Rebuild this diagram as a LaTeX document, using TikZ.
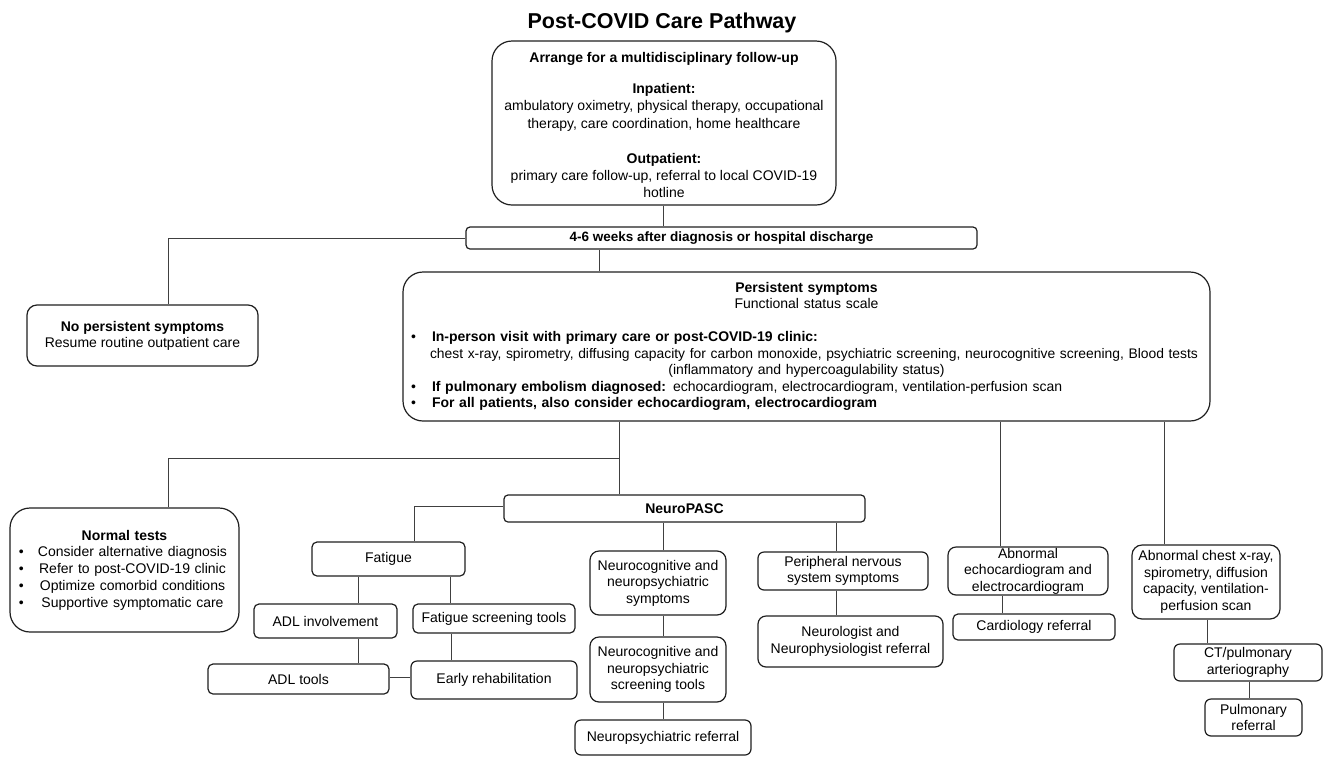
\documentclass[tikz,border=0pt]{standalone}
\usepackage{fontspec}
\setmainfont{Liberation Sans}
\usetikzlibrary{calc}
\tikzset{
  rbox/.style={draw=black!88, line width=1.2pt, rounded corners=#1, inner sep=0pt, align=center},
  conn/.style={draw=black!75, line width=0.9pt},
  ttl/.style={font=\fontsize{21.5}{24}\selectfont\bfseries}
}
\begin{document}
\begin{tikzpicture}[x=1pt, y=-1pt, font=\fontsize{14}{16.5}\selectfont]
\useasboundingbox (0,0) rectangle (1323,756);

\node[ttl] (title) at (662,23) {Post-COVID Care Pathway};

\node[rbox=20pt, minimum width=344pt, minimum height=164pt, font=\fontsize{14}{17.3}\selectfont] (A) at (664,123)
  {\rule{0pt}{5pt}\\[-8pt]
   \textbf{Arrange for a multidisciplinary follow-up}\\[13.7pt]
   \textbf{Inpatient:}\\
   ambulatory oximetry, physical therapy, occupational\\
   therapy, care coordination, home healthcare\\[17.7pt]
   \textbf{Outpatient:}\\
   primary care follow-up, referral to local COVID-19\\
   hotline};

\node[rbox=4pt, minimum width=511pt, minimum height=22pt, font=\fontsize{13.5}{16}\selectfont\bfseries] (B) at (721.5,238)
  {4-6 weeks after diagnosis or hospital discharge};

\node[rbox=10pt, minimum width=231pt, minimum height=61pt, font=\fontsize{14}{16}\selectfont] (C) at (142.5,335.5)
  {\textbf{No persistent symptoms}\\Resume routine outpatient care};

\node[rbox=20pt, text width=793pt, inner xsep=7pt, minimum height=149pt, align=left] (P) at (806.5,346.5)
  {\makebox[\linewidth][c]{\textbf{Persistent symptoms}}\\
   \makebox[\linewidth][c]{Functional status scale}\\[16.5pt]
   \makebox[22pt][l]{\hspace*{1pt}\textbullet}\textbf{In-person visit with primary care or post-COVID-19 clinic:}\\
   \hspace*{20pt}\makebox[768pt][l]{\resizebox{768pt}{!}{chest x-ray, spirometry, diffusing capacity for carbon monoxide, psychiatric screening, neurocognitive screening, Blood tests}}\\
   \makebox[\linewidth][c]{(inflammatory and hypercoagulability status)}\\
   \makebox[22pt][l]{\hspace*{1pt}\textbullet}\textbf{If pulmonary embolism diagnosed:} echocardiogram, electrocardiogram, ventilation-perfusion scan\\
   \makebox[22pt][l]{\hspace*{1pt}\textbullet}\textbf{For all patients, also consider echocardiogram, electrocardiogram}};

\node[rbox=20pt, text width=221pt, inner xsep=4pt, minimum height=124pt, align=left, font=\fontsize{14}{16.7}\selectfont] (N) at (124.5,570)
  {\makebox[\linewidth][c]{\textbf{Normal tests}}\\
   \makebox[16pt][l]{\hspace*{5pt}\textbullet}\makebox[205pt][c]{Consider alternative diagnosis}\\
   \makebox[16pt][l]{\hspace*{5pt}\textbullet}\makebox[205pt][c]{Refer to post-COVID-19 clinic}\\
   \makebox[16pt][l]{\hspace*{5pt}\textbullet}\makebox[205pt][c]{Optimize comorbid conditions}\\
   \makebox[16pt][l]{\hspace*{5pt}\textbullet}\makebox[205pt][c]{Supportive symptomatic care}};

\node[rbox=4pt, minimum width=361pt, minimum height=27pt] (NP) at (684.5,508.5) {\textbf{NeuroPASC}};

\node[rbox=5pt, minimum width=153pt, minimum height=34pt] (F) at (388.5,559) {Fatigue};
\node[rbox=5pt, minimum width=143pt, minimum height=34pt] (AI) at (325.5,621) {ADL involvement};
\node[rbox=5pt, minimum width=162pt, minimum height=29pt] (FS) at (494,618.5) {Fatigue screening tools};
\node[rbox=5pt, minimum width=181pt, minimum height=30pt] (AT) at (298.5,679) {ADL tools};
\node[rbox=6pt, minimum width=166pt, minimum height=38pt] (ER) at (494,680) {Early rehabilitation};

\node[rbox=9pt, minimum width=136pt, minimum height=64pt] (NC1) at (658,583) {Neurocognitive and\\neuropsychiatric\\symptoms};
\node[rbox=9pt, minimum width=136pt, minimum height=65pt] (NC2) at (658,669.5) {Neurocognitive and\\neuropsychiatric\\screening tools};
\node[rbox=6pt, minimum width=176pt, minimum height=35pt] (NR) at (663,737.5) {Neuropsychiatric referral};

\node[rbox=6pt, minimum width=170pt, minimum height=38pt] (PN) at (843,571) {Peripheral nervous\\system symptoms};
\node[rbox=8pt, minimum width=185pt, minimum height=51pt] (NL) at (850.5,641.5) {Neurologist and\\Neurophysiologist referral};

\node[rbox=8pt, minimum width=160pt, minimum height=48pt] (AE) at (1028,571) {Abnormal\\echocardiogram and\\electrocardiogram};
\node[rbox=5pt, minimum width=162pt, minimum height=26pt] (CR) at (1034,627) {Cardiology referral};

\node[rbox=10pt, minimum width=148pt, minimum height=74pt] (AC) at (1206,582) {Abnormal chest x-ray,\\spirometry, diffusion\\capacity, ventilation-\\perfusion scan};
\node[rbox=6pt, minimum width=148pt, minimum height=37pt] (CT) at (1248,662.5) {CT/pulmonary\\arteriography};
\node[rbox=6pt, minimum width=97pt, minimum height=37pt] (PR) at (1253.5,717.5) {Pulmonary\\referral};

% connectors
\draw[conn] ([xshift=-1pt]A.south) -- ([xshift=-1pt]A.south |- B.north);
\draw[conn] (B.west) -| ([xshift=25.5pt]C.north);
\draw[conn] ([xshift=-122.5pt]B.south) -- ([xshift=-122.5pt]B.south |- P.north);

\coordinate (J) at (619,458);
\draw[conn] ([xshift=-187.5pt]P.south) -- ([xshift=-187.5pt]P.south |- NP.north);
\draw[conn] (J) -| ([xshift=43.5pt]N.north);

\draw[conn] ([xshift=-28pt]AE.north) -- ([xshift=-28pt]AE.north |- P.south);
\draw[conn] ([xshift=-42pt]AC.north) -- ([xshift=-42pt]AC.north |- P.south);

\draw[conn] ([yshift=2.5pt]NP.west) -| ([xshift=25.5pt]F.north);
\draw[conn] ([xshift=5pt]NC1.north) -- ([xshift=5pt]NC1.north |- NP.south);
\draw[conn] ([xshift=5pt]NC1.south) -- ([xshift=5pt]NC1.south |- NC2.north);
\draw[conn] ([xshift=5pt]NC2.south) -- ([xshift=5pt]NC2.south |- NR.north);
\draw[conn] ([xshift=-7pt]PN.north) -- ([xshift=-7pt]PN.north |- NP.south);
\draw[conn] ([xshift=-7pt]PN.south) -- ([xshift=-7pt]PN.south |- NL.north);

\draw[conn] ([xshift=32.5pt]AI.north) -- ([xshift=32.5pt]AI.north |- F.south);
\draw[conn] ([xshift=-44pt]FS.north) -- ([xshift=-44pt]FS.north |- F.south);
\draw[conn] ([xshift=32.5pt]AI.south) -- ([xshift=32.5pt]AI.south |- AT.north);
\draw[conn] ([xshift=-43pt]FS.south) -- ([xshift=-43pt]FS.south |- ER.north);
\draw[conn] ([yshift=2pt]AT.east) -- ([yshift=2pt]AT.east -| ER.west);

\draw[conn] ([xshift=-26pt]AE.south) -- ([xshift=-26pt]AE.south |- CR.north);
\draw[conn] ([xshift=1pt]AC.south) -- ([xshift=1pt]AC.south |- CT.north);
\draw[conn] ([xshift=1pt]CT.south) -- ([xshift=1pt]CT.south |- PR.north);
\end{tikzpicture}
\end{document}
